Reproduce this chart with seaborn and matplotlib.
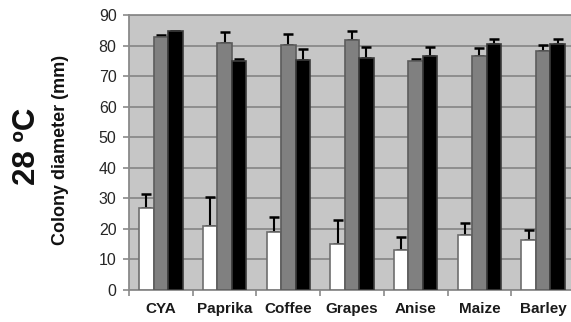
import numpy as np
import pandas as pd
import matplotlib
matplotlib.use("Agg")
import matplotlib.pyplot as plt
import seaborn as sns

# Substrates on the x axis
substrates = ["CYA", "Paprika", "Coffee", "Grapes", "Anise", "Maize", "Barley"]

# Mean colony diameter (mm) for the three series
series_names = ["Series 1", "Series 2", "Series 3"]
series1 = [26.8, 20.7, 18.8, 15.0, 12.9, 18.0, 16.1]
series2 = [83.0, 81.0, 80.4, 82.0, 75.0, 76.7, 78.3]
series3 = [85.0, 75.2, 75.5, 76.2, 76.7, 80.7, 80.7]

# Upper error (mm) for each bar
err1 = [4.6, 9.8, 5.0, 7.7, 4.3, 3.8, 3.3]
err2 = [0.7, 3.6, 3.6, 2.8, 0.8, 2.7, 2.1]
err3 = [0.0, 0.4, 3.5, 3.4, 2.9, 1.6, 1.6]

y_ticks = [0, 10, 20, 30, 40, 50, 60, 70, 80, 90]

values = [series1, series2, series3]
errors = [err1, err2, err3]

df = pd.DataFrame({
    "substrate": np.tile(substrates, 3),
    "series": np.repeat(series_names, len(substrates)),
    "diameter": np.concatenate(values),
})

sns.set_style("white")
plt.rcParams["font.family"] = ["Liberation Sans", "DejaVu Sans"]

fig = plt.figure(figsize=(5.71, 3.22), dpi=100)
ax = fig.add_axes([129 / 571, 32.5 / 322, 446 / 571, 274 / 322])

bg = "#c6c6c6"
grid_c = "#8a8a8a"
ax.set_facecolor(bg)

fills = ["#ffffff", "#808080", "#000000"]
edges = ["#6e6e6e", "#5c5c5c", "#3c3c3c"]

sns.barplot(data=df, x="substrate", y="diameter", hue="series",
            order=substrates, hue_order=series_names,
            palette=fills, width=0.68, gap=0, errorbar=None,
            saturation=1, legend=False, ax=ax, zorder=3)

for container, ec, err in zip(ax.containers, edges, errors):
    xs, tops = [], []
    for bar in container:
        bar.set_edgecolor(ec)
        bar.set_linewidth(1.2)
        xs.append(bar.get_x() + bar.get_width() / 2)
        tops.append(bar.get_height())
    ax.errorbar(xs, tops, yerr=[np.zeros(len(err)), err], fmt="none",
                ecolor="black", elinewidth=1.5, capsize=3.6, capthick=1.8,
                zorder=2)

ax.set_ylim(0, 90)
ax.set_xlim(-0.5, 6.5)
ax.set_yticks(y_ticks)
ax.yaxis.grid(True, color=grid_c, linewidth=1.3, zorder=0)
ax.set_axisbelow(True)

ax.spines["right"].set_visible(False)
for side in ["left", "bottom", "top"]:
    ax.spines[side].set_color(grid_c)
    ax.spines[side].set_linewidth(1.3)

ax.tick_params(axis="y", which="major", direction="out", length=4,
               width=1.2, color=grid_c, labelsize=11.5, labelcolor="#262626",
               pad=5, left=True)
ax.tick_params(axis="x", which="major", length=0, pad=9,
               labelsize=11, labelcolor="#1a1a1a")
ax.set_xticks(np.arange(-0.5, 7.0, 1.0), minor=True)
ax.tick_params(axis="x", which="minor", direction="out", length=4,
               width=1.2, color=grid_c, bottom=True)
for lab in ax.get_xticklabels():
    lab.set_fontweight("bold")

ax.set_xlabel("")
ax.set_ylabel("Colony diameter (mm)", fontsize=13, fontweight="bold",
              color="#111111")
ax.yaxis.set_label_coords(69 / 571, 1 - 150 / 322, transform=fig.transFigure)

fig.text(27 / 571, 1 - 146 / 322, "28 ºC", rotation=90, fontsize=22.5,
         fontweight="bold", ha="center", va="center", color="#111111")

fig.savefig("out.png", dpi=100, facecolor="white")
